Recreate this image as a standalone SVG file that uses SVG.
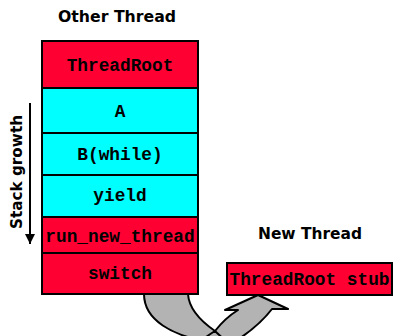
<svg xmlns="http://www.w3.org/2000/svg" width="394" height="336" viewBox="0 0 394 336">
<style>
.red{fill:#ff0033;stroke:#000;stroke-width:2}
.cyan{fill:#00ffff;stroke:#000;stroke-width:2}
.mono{font-family:"Liberation Mono","Courier New",monospace;font-weight:bold;font-size:17.8px;fill:#000;text-anchor:middle}
.title{font-family:"DejaVu Sans","Noto Sans",sans-serif;font-weight:bold;font-size:16px;fill:#000;text-anchor:middle}
</style>
<defs>
<marker id="ah" viewBox="0 0 10 10" refX="10" refY="5" markerWidth="5" markerHeight="5" orient="auto" markerUnits="strokeWidth">
<path d="M0,0 L10,5 L0,10 Z" fill="#000"/>
</marker>
</defs>
<rect width="394" height="336" fill="#fff"/>
<text class="title" x="117" y="22" textLength="118" lengthAdjust="spacingAndGlyphs">Other Thread</text>
<text class="title" x="310" y="239" textLength="104" lengthAdjust="spacingAndGlyphs">New Thread</text>
<g id="stack-growth">
<line x1="30" y1="103" x2="30" y2="244" stroke="#000" stroke-width="2" marker-end="url(#ah)"/>
<text class="title" transform="translate(22,172) rotate(-90)" x="0" y="0" textLength="114" lengthAdjust="spacingAndGlyphs">Stack growth</text>
</g>
<g id="connectors">
<path d="M144,294 L188,294 C189,310 202,322 215,331 C222,322 230,315 238,310 L225,310 L258,295 L288,309 L272,309 C262,322 250,332 234,342 L210,342 C172,336 144,320 144,294 Z" fill="#b3b3b3" stroke="#000" stroke-width="2" stroke-linejoin="round"/>
<path d="M215,331 C207,336 203,339 200,342 M215,331 C220,336 224,339 227,342" fill="none" stroke="#000" stroke-width="2"/>
</g>
<g id="threadroot">
<rect class="red" x="42" y="41" width="156" height="47"/>
<text class="mono" x="120" y="71">ThreadRoot</text>
</g>
<g id="a">
<rect class="cyan" x="42" y="88" width="156" height="45"/>
<text class="mono" x="120" y="117">A</text>
</g>
<g id="b-while">
<rect class="cyan" x="42" y="133" width="156" height="42"/>
<text class="mono" x="120" y="160">B(while)</text>
</g>
<g id="yield">
<rect class="cyan" x="42" y="175" width="156" height="42"/>
<text class="mono" x="120" y="201">yield</text>
</g>
<g id="run-new-thread">
<rect class="red" x="42" y="217" width="156" height="36"/>
<text class="mono" x="120" y="242">run_new_thread</text>
</g>
<g id="switch">
<rect class="red" x="42" y="253" width="156" height="41"/>
<text class="mono" x="120" y="279">switch</text>
</g>
<g id="threadroot-stub">
<rect class="red" x="227" y="263" width="165" height="32"/>
<text class="mono" x="309.5" y="285">ThreadRoot stub</text>
</g>
</svg>
